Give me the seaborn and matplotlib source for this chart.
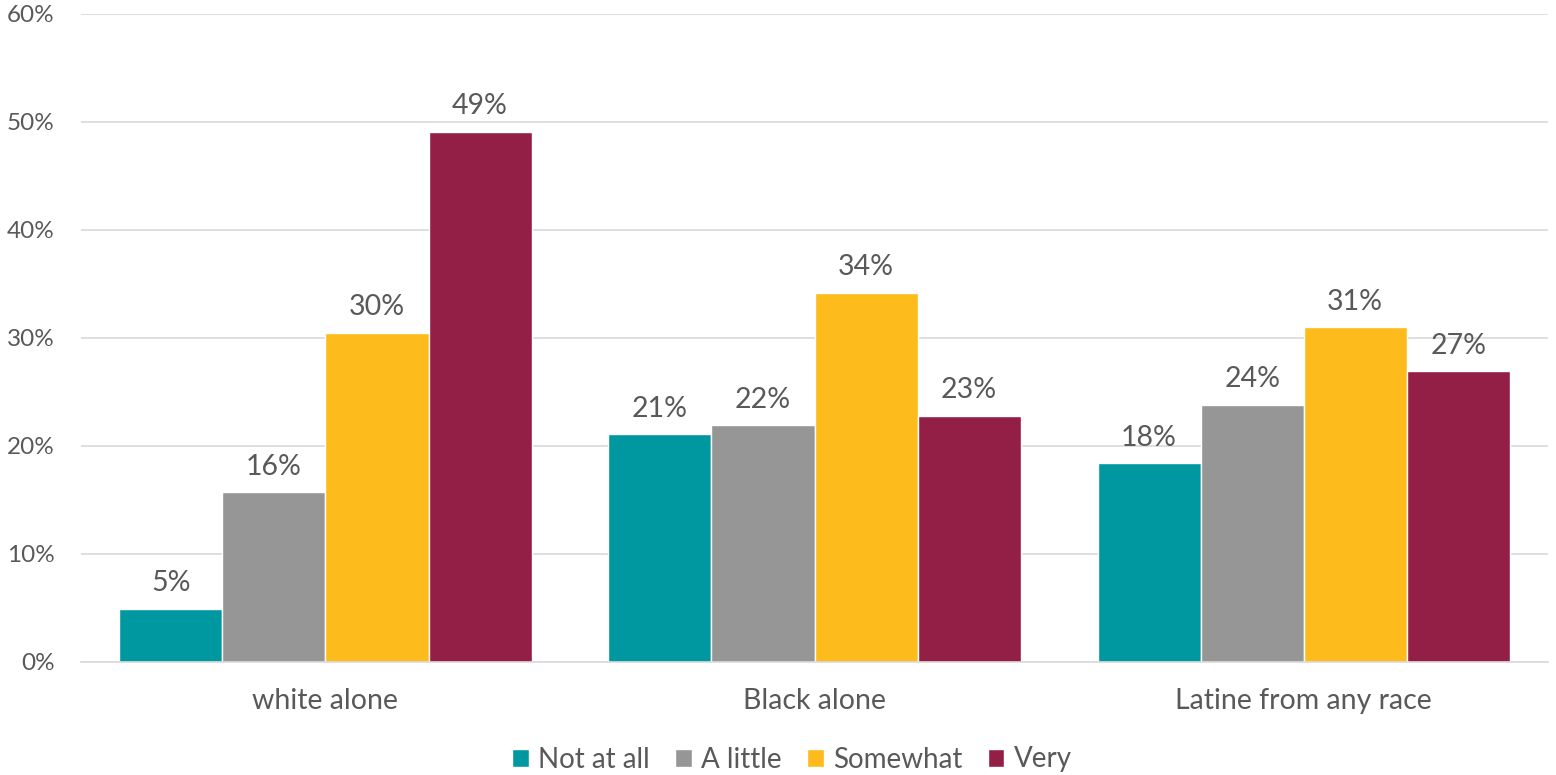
import numpy as np
import pandas as pd
import matplotlib.pyplot as plt
import seaborn as sns

# data
groups = ['white alone', 'Black alone', 'Latine from any race']
levels = ['Not at all', 'A little', 'Somewhat', 'Very']
not_at_all = [4.9, 21.1, 18.4]
a_little = [15.7, 21.9, 23.8]
somewhat = [30.5, 34.2, 31.0]
very = [49.1, 22.8, 26.9]
colors = ['#0098A0', '#969696', '#FDBB1C', '#931F46']

df = pd.DataFrame({
    'group': groups * 4,
    'level': np.repeat(levels, 3),
    'value': not_at_all + a_little + somewhat + very,
})

sns.set_style('white')
plt.rcParams['font.family'] = ['Lato', 'DejaVu Sans']
text_col = '#595959'

fig, ax = plt.subplots(figsize=(15.56, 7.75), dpi=100)
sns.barplot(data=df, x='group', y='value', hue='level', order=groups,
            hue_order=levels, palette=colors, width=0.843, gap=0,
            saturation=1, ax=ax, legend=True)

for cont in ax.containers:
    ax.bar_label(cont, labels=[f'{v:.0f}%' for v in cont.datavalues],
                 padding=9, fontsize=20.5, color=text_col)

ax.set_ylim(0, 60)
ax.set_xlim(-0.5, 2.5)
ax.set_yticks(range(0, 61, 10))
ax.set_yticklabels([f'{t}%' for t in range(0, 61, 10)], fontsize=17.5, color=text_col)
ax.tick_params(axis='x', labelsize=20.5, labelcolor=text_col, length=0, pad=19)
ax.tick_params(axis='y', length=0, pad=19)
ax.yaxis.grid(True, color='#D9D9D9', lw=1.2)
ax.set_axisbelow(True)
ax.set_xlabel('')
ax.set_ylabel('')
for s in ['top', 'right', 'left']:
    ax.spines[s].set_visible(False)
ax.spines['bottom'].set_color('#D9D9D9')
ax.spines['bottom'].set_linewidth(1.2)

ax.legend(loc='center', bbox_to_anchor=(0.509, 0.02), bbox_transform=fig.transFigure,
          ncol=4, frameon=False, fontsize=20, labelcolor=text_col,
          handlelength=0.6, handleheight=0.6, handletextpad=0.35, columnspacing=0.9,
          borderpad=0)

fig.subplots_adjust(left=0.052, right=0.995, top=0.982, bottom=0.146)
fig.savefig('out.png', dpi=100)
